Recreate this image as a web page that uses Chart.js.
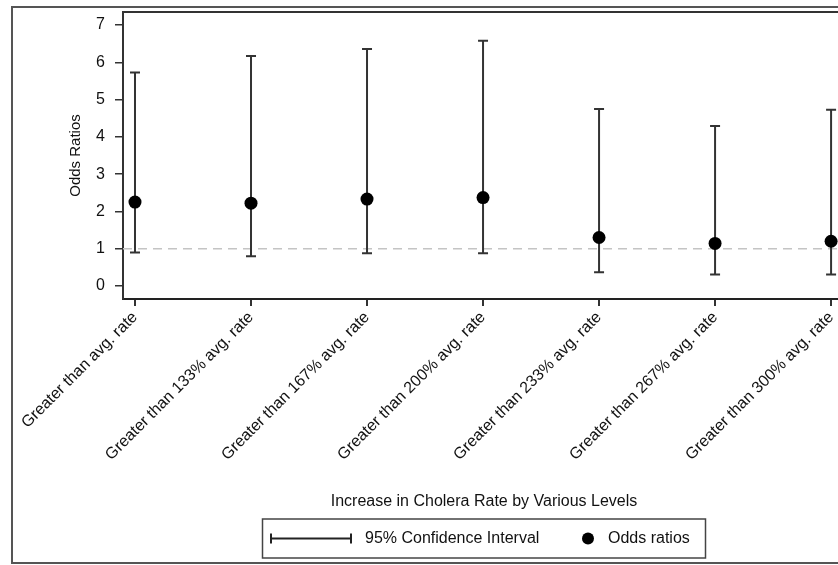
<!DOCTYPE html>
<html>
<head>
<meta charset="utf-8">
<script src="https://cdn.jsdelivr.net/npm/chart.js@4/dist/chart.umd.min.js"></script>
<style>
  html, body { margin: 0; padding: 0; background: #fff; overflow: hidden; }
  canvas { display: block; }
</style>
</head>
<body>
<canvas id="myChart" width="860" height="565" style="width:860px;height:565px"></canvas>
<script>
const ctx = document.getElementById("myChart").getContext("2d");

const labels = [
  "Greater than avg. rate",
  "Greater than 133% avg. rate",
  "Greater than 167% avg. rate",
  "Greater than 200% avg. rate",
  "Greater than 233% avg. rate",
  "Greater than 267% avg. rate",
  "Greater than 300% avg. rate",
];
const oddsRatios = [2.25, 2.22, 2.33, 2.37, 1.30, 1.14, 1.20];
const lowerCI = [0.90, 0.80, 0.88, 0.88, 0.37, 0.31, 0.31];
const upperCI = [5.73, 6.17, 6.36, 6.58, 4.75, 4.29, 4.73];
const yTicks = [0, 1, 2, 3, 4, 5, 6, 7];
const refLine = 1;

const FONT = "'Liberation Sans', Arial, sans-serif";
const INK = "#111";

// outer box + top edge of the plot
const framePlugin = {
  id: "frame",
  beforeDraw(chart) {
    const c = chart.ctx;
    const a = chart.chartArea;
    c.save();
    c.strokeStyle = "#555";
    c.lineWidth = 2;
    c.strokeRect(12, 7, chart.width + 20, 556);
    c.strokeStyle = "#333";
    c.beginPath();
    c.moveTo(a.left, a.top);
    c.lineTo(a.right, a.top);
    c.lineTo(a.right, a.bottom);
    c.stroke();
    c.restore();
  },
};

// dashed line at OR = 1 and the CI whiskers
const errorBarPlugin = {
  id: "errorBars",
  beforeDatasetsDraw(chart) {
    const c = chart.ctx;
    const x = chart.scales.x;
    const y = chart.scales.y;
    const a = chart.chartArea;
    c.save();
    c.strokeStyle = "#c4c4c4";
    c.lineWidth = 1.5;
    c.setLineDash([9, 6]);
    c.beginPath();
    c.moveTo(a.left, y.getPixelForValue(refLine));
    c.lineTo(a.right, y.getPixelForValue(refLine));
    c.stroke();
    c.setLineDash([]);

    c.strokeStyle = "#333";
    c.lineWidth = 2;
    labels.forEach((_, i) => {
      const px = x.getPixelForValue(i);
      const lo = y.getPixelForValue(lowerCI[i]);
      const hi = y.getPixelForValue(upperCI[i]);
      c.beginPath();
      c.moveTo(px, lo);
      c.lineTo(px, hi);
      c.moveTo(px - 5, lo);
      c.lineTo(px + 5, lo);
      c.moveTo(px - 5, hi);
      c.lineTo(px + 5, hi);
      c.stroke();
    });
    c.restore();
  },
};

// legend in a box under the axis title
const legendBoxPlugin = {
  id: "legendBox",
  afterDraw(chart) {
    const c = chart.ctx;
    const a = chart.chartArea;
    const cx = (a.left + a.right) / 2;
    const top = 519;
    const mid = top + 19.5;
    c.save();
    c.strokeStyle = "#444";
    c.lineWidth = 1.5;
    c.strokeRect(cx - 221.5, top, 443, 39);

    c.strokeStyle = "#222";
    c.lineWidth = 2;
    c.beginPath();
    c.moveTo(cx - 213, mid);
    c.lineTo(cx - 133, mid);
    c.moveTo(cx - 213, mid - 5);
    c.lineTo(cx - 213, mid + 5);
    c.moveTo(cx - 133, mid - 5);
    c.lineTo(cx - 133, mid + 5);
    c.stroke();

    c.fillStyle = "#000";
    c.beginPath();
    c.arc(cx + 104, mid, 6, 0, Math.PI * 2);
    c.fill();

    c.fillStyle = INK;
    c.font = "16px " + FONT;
    c.textBaseline = "middle";
    c.textAlign = "left";
    c.fillText("95% Confidence Interval", cx - 119, mid);
    c.fillText("Odds ratios", cx + 124, mid);
    c.restore();
  },
};

const data = {
  datasets: [
    {
      label: "Odds ratios",
      data: oddsRatios.map((v, i) => ({ x: i, y: v })),
      pointRadius: 6.5,
      pointBackgroundColor: "#000",
      pointBorderWidth: 0,
      showLine: false,
    },
  ],
};

const config = {
  type: "scatter",
  data: data,
  options: {
    responsive: false,
    animation: false,
    layout: { padding: { left: 12, top: 12, right: 15, bottom: 54 } },
    plugins: {
      legend: { display: false },
      tooltip: { enabled: false },
    },
    scales: {
      x: {
        type: "linear",
        min: -0.1034,
        max: 6.12,
        afterBuildTicks: (scale) => {
          scale.ticks = labels.map((_, i) => ({ value: i }));
        },
        afterFit: (scale) => {
          scale.height = 212;
          scale.paddingLeft = 0;
          scale.paddingRight = 0;
        },
        ticks: {
          autoSkip: false,
          maxRotation: 45,
          minRotation: 45,
          padding: 2,
          color: INK,
          font: { family: FONT, size: 16 },
          callback: (value) => labels[value],
        },
        grid: { drawOnChartArea: false, tickLength: 7, color: "#333", lineWidth: 2 },
        border: { color: "#222", width: 2 },
        title: {
          display: true,
          text: "Increase in Cholera Rate by Various Levels",
          color: INK,
          font: { family: FONT, size: 16 },
          padding: { top: 0, bottom: 0 },
        },
      },
      y: {
        min: -0.35,
        max: 7.35,
        afterBuildTicks: (scale) => {
          scale.ticks = yTicks.map((v) => ({ value: v }));
        },
        afterFit: (scale) => {
          scale.width = 111;
          scale.paddingTop = 0;
          scale.paddingBottom = 0;
        },
        ticks: {
          padding: 10,
          color: INK,
          font: { family: FONT, size: 16 },
        },
        grid: { drawOnChartArea: false, tickLength: 8, color: "#333", lineWidth: 1.5 },
        border: { color: "#333", width: 2 },
        title: {
          display: true,
          text: "Odds Ratios",
          color: INK,
          font: { family: FONT, size: 15 },
          padding: { top: 55, bottom: 4 },
        },
      },
    },
  },
  plugins: [framePlugin, errorBarPlugin, legendBoxPlugin],
};

const myChart = new Chart(ctx, config);
</script>
</body>
</html>
